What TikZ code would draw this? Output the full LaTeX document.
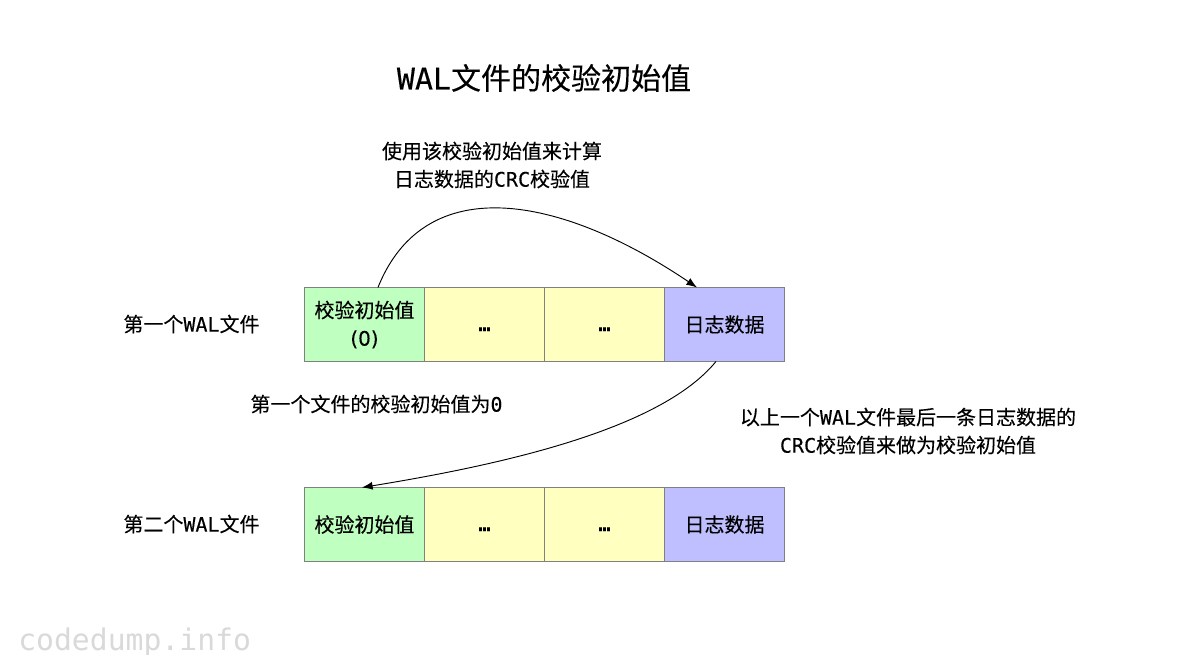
\documentclass[tikz,border=0pt]{standalone}
\usepackage{fontspec}
\setmainfont[FakeBold=0.2]{Noto Sans CJK SC}
\newfontfamily\lat[FakeBold=0.2]{DejaVu Sans Mono}
\newfontfamily\plainzero[FakeBold=0.1]{DejaVu Sans}
\newfontfamily\wm{DejaVu Sans Mono}
\definecolor{cgreen}{HTML}{BFFFBF}
\definecolor{cyellow}{HTML}{FFFFBF}
\definecolor{cblue}{HTML}{BFBFFF}
\definecolor{cedge}{HTML}{808080}
\usetikzlibrary{arrows.meta}
\newcommand{\dotsmark}{\rule{0pt}{9.8pt}{\lat\bfseries …}}
\tikzset{
  cell/.style={draw=cedge,line width=0.75pt,minimum width=90pt,minimum height=55.5pt,inner sep=0pt,outer sep=0pt,text=black,align=center,font=\fontsize{15}{21}\selectfont},
  lbl/.style={inner sep=0pt,align=center,text=black,font=\fontsize{15}{21}\selectfont},
  conn/.style={black,line width=0.7pt,-{Latex[length=8pt,width=6pt]}}
}
\begin{document}
\begin{tikzpicture}[x=0.75pt,y=-0.75pt]
\useasboundingbox (0,0) rectangle (1200,655);
\node[lbl,font=\fontsize{22.5}{26}\selectfont] (title) at (544,78) {{\lat WAL}文件的校验初始值};
\node[lbl] (top) at (492,165) {使用该校验初始值来计算\\日志数据的{\lat CRC}校验值};
\node[lbl] (f1) at (191.5,324) {第一个{\lat WAL}文件};
\node[lbl] (f2) at (191.5,524) {第二个{\lat WAL}文件};
\node[lbl] (zero) at (376.5,404) {第一个文件的校验初始值为{\lat 0}};
\node[lbl] (last) at (908,431) {以上一个{\lat WAL}文件最后一条日志数据的\\{\lat CRC}校验值来做为校验初始值};
\node[cell,fill=cgreen] (a1) at (364.5,324.5) {校验初始值\\{\plainzero (0)}};
\node[cell,fill=cyellow] (a2) at (484.5,324.5) {\dotsmark};
\node[cell,fill=cyellow] (a3) at (604.5,324.5) {\dotsmark};
\node[cell,fill=cblue] (a4) at (724.5,324.5) {日志数据};
\node[cell,fill=cgreen] (b1) at (364.5,524.5) {校验初始值};
\node[cell,fill=cyellow] (b2) at (484.5,524.5) {\dotsmark};
\node[cell,fill=cyellow] (b3) at (604.5,524.5) {\dotsmark};
\node[cell,fill=cblue] (b4) at (724.5,524.5) {日志数据};
\coordinate (s1) at ([xshift=10.1pt]a1.north);
\coordinate (e1) at ([xshift=-20.6pt]a4.north);
\coordinate (s2) at ([xshift=-6.4pt]a4.south);
\coordinate (e2) at ([xshift=-1.9pt]b1.north);
\draw[conn] (s1) .. controls (425,170) and (560,195) .. (e1);
\draw[conn] (s2) .. controls (660,430) and (500,465) .. (e2);
\node[inner sep=0pt,anchor=base west,text=black!15,font=\wm\fontsize{22.3}{24}\selectfont] (wm) at (18,650) {codedump.info};
\end{tikzpicture}
\end{document}
